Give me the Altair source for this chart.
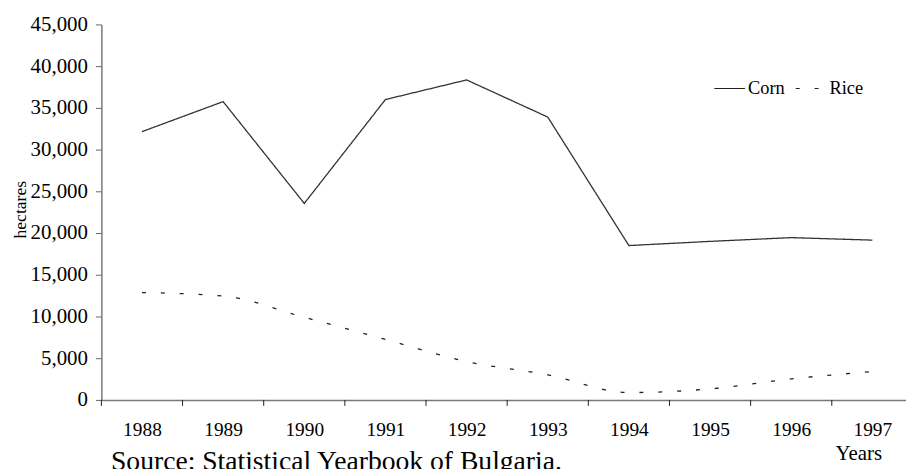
import altair as alt
import pandas as pd

years = [1988, 1989, 1990, 1991, 1992, 1993, 1994, 1995, 1996, 1997]
corn = [32150, 35750, 23550, 36000, 38350, 33900, 18500, 19000, 19450, 19150]
rice = [12870, 12450, 9900, 7250, 4600, 3000, 880, 1320, 2520, 3400]
series_names = ["Corn", "Rice"]
y_ticks = [0, 5000, 10000, 15000, 20000, 25000, 30000, 35000, 40000, 45000]
source_text = "Source: Statistical Yearbook of Bulgaria."

rows = []
for i, yr in enumerate(years):
    rows.append({"year": yr, "value": corn[i], "series": "Corn"})
    rows.append({"year": yr, "value": rice[i], "series": "Rice"})
df = pd.DataFrame(rows)

bounds = pd.DataFrame({"year": [y - 0.5 for y in years]})

FONT = "Liberation Serif"
W, H = 810, 378
band = 81.7

xenc = alt.X(
    "year:Q",
    scale=alt.Scale(domain=[1987.5, 1987.5 + W / band], nice=False, zero=False),
    axis=alt.Axis(
        values=years, format="d", ticks=False, tickSize=0, grid=False,
        labelFont=FONT, labelFontSize=19.5, labelColor="black",
        labelBaseline="alphabetic", labelPadding=36,
        domainColor="#7a7a7a", domainWidth=1.5,
        title="Years", titleFont=FONT, titleFontSize=21, titleFontWeight="normal",
        titleColor="black", titleX=762, titleY=60, titleAlign="center",
        titleBaseline="alphabetic", labelFlush=False, labelOverlap=False,
    ),
)

yenc = alt.Y(
    "value:Q",
    scale=alt.Scale(domain=[0, 45000], nice=False),
    axis=alt.Axis(
        values=y_ticks, format=",.0f", grid=False, tickSize=6, tickColor="#666",
        labelFont=FONT, labelFontSize=21, labelColor="black", labelPadding=8,
        domainColor="#7a7a7a", domainWidth=1.5,
        title="hectares", titleFont=FONT, titleFontSize=17.7, titleFontWeight="normal",
        titleColor="black", titleAngle=270, titleX=-76.5, titleY=186,
        titleAlign="center", titleBaseline="alphabetic",
    ),
)

dash = alt.StrokeDash(
    "series:N",
    scale=alt.Scale(domain=series_names, range=[[1, 0], [4, 15]]),
    legend=alt.Legend(
        orient="none", legendX=616, legendY=48, direction="horizontal",
        title=None, symbolType="stroke", symbolSize=961, symbolStrokeWidth=1.2,
        symbolStrokeColor="#222", labelFont=FONT, labelFontSize=18.5,
        labelColor="black", labelOffset=2, columnPadding=8, padding=0,
    ),
)

corn_line = alt.Chart(df).transform_filter(alt.datum.series == "Corn").mark_line(
    interpolate="linear", color="#333", strokeWidth=1.3
).encode(x=xenc, y=yenc, strokeDash=dash)

rice_line = alt.Chart(df).transform_filter(alt.datum.series == "Rice").mark_line(
    interpolate="monotone", color="#222", strokeWidth=1.3
).encode(x=xenc, y=yenc, strokeDash=dash)

ticks = alt.Chart(bounds).mark_rule(color="#222", strokeWidth=1).encode(
    x=xenc, y=alt.value(H), y2=alt.value(H + 6)
)

source = alt.Chart(alt.Data(values=[{"t": source_text}])).mark_text(
    align="left", baseline="alphabetic", font=FONT, fontSize=27.8, color="black"
).encode(text="t:N", x=alt.value(9.7), y=alt.value(449))

chart = alt.layer(corn_line, rice_line, ticks, source).properties(
    width=W, height=H,
    autosize=alt.AutoSizeParams(type="none"),
    padding={"left": 94, "top": 15, "right": 0, "bottom": 68},
).configure_view(stroke=None)

chart.save("out.html", embed_options={"renderer": "svg", "actions": False})
